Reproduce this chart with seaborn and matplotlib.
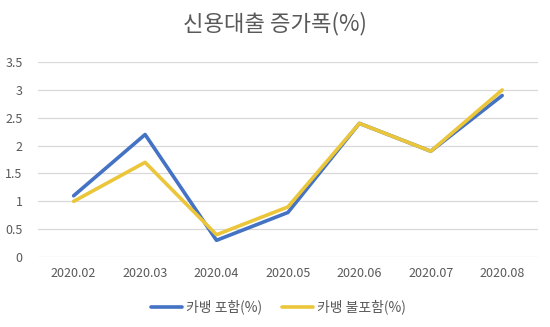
import matplotlib
matplotlib.use("Agg")
import matplotlib.pyplot as plt
import seaborn as sns
import pandas as pd

months = ["2020.02", "2020.03", "2020.04", "2020.05", "2020.06", "2020.07", "2020.08"]
with_kbank = [1.1, 2.2, 0.3, 0.8, 2.4, 1.9, 2.9]
without_kbank = [1.0, 1.7, 0.4, 0.9, 2.4, 1.9, 3.0]
series_names = ["카뱅 포함(%)", "카뱅 불포함(%)"]
title = "신용대출 증가폭(%)"

sns.set_theme(style="white")
plt.rcParams['font.family'] = ['Noto Sans CJK KR', 'DejaVu Sans']

df = pd.DataFrame({
    "month": months * 2,
    "value": with_kbank + without_kbank,
    "series": [series_names[0]] * len(months) + [series_names[1]] * len(months),
})

fig = plt.figure(figsize=(5.5, 3.27), dpi=100)
ax = fig.add_axes([0.069, 0.214, 0.909, 0.596])
sns.lineplot(data=df, x="month", y="value", hue="series",
             palette=["#4472C4", "#EBC63A"], linewidth=2.6, ax=ax, sort=False)

ax.set_xlim(-0.5, len(months) - 0.5)
ax.set_ylim(0, 3.5)
ax.set_yticks([0, 0.5, 1, 1.5, 2, 2.5, 3, 3.5])
ax.set_yticklabels(["0", "0.5", "1", "1.5", "2", "2.5", "3", "3.5"])
ax.yaxis.grid(True, color="#D9D9D9", linewidth=0.9)
ax.set_axisbelow(True)
for s in ax.spines.values():
    s.set_visible(False)
ax.tick_params(axis="both", length=0, colors="#595959", labelsize=9)
ax.tick_params(axis="x", pad=7)
ax.tick_params(axis="y", pad=11)
ax.set_xlabel("")
ax.set_ylabel("")

fig.text(0.5, 0.927, title, ha="center", va="center", fontsize=16, color="#595959")

handles, labels = ax.get_legend_handles_labels()
ax.legend(handles, labels, loc="center", bbox_to_anchor=(0.481, -0.256), ncol=2,
          frameon=False, fontsize=10, labelcolor="#595959", handlelength=2.2,
          columnspacing=1.45, handletextpad=0.3)

fig.savefig("out.png", dpi=100)
